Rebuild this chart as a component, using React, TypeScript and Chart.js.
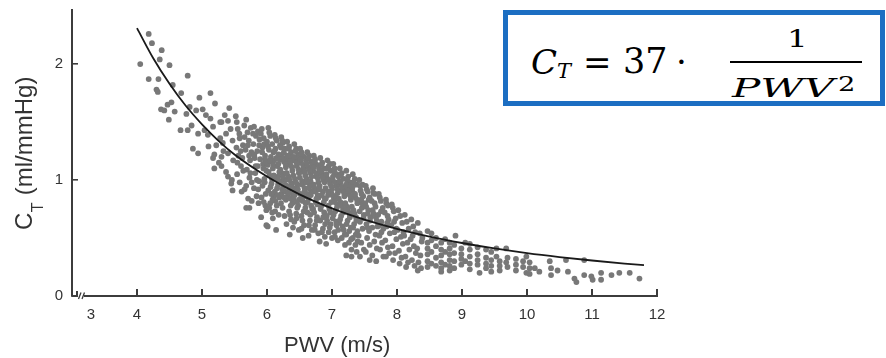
import React, { useEffect, useRef, useState } from 'react';
import { Chart, registerables } from 'chart.js';

Chart.register(...registerables);

// ---------- data ----------
const xTickValues = [4, 5, 6, 7, 8, 9, 10, 11, 12];
const xBreakLabelValue = 3.29; // where the "3" label sits next to the axis break
const yTickValues = [0, 1, 2];

// fitted curve C_T = 37 / PWV^2
const fitPwv = [4.0, 4.25, 4.5, 4.75, 5.0, 5.25, 5.5, 6.0, 6.5, 7.0, 7.5, 8.0, 8.5, 9.0, 9.5, 10.0, 10.5, 11.0, 11.5, 11.8];
const fitCt = [2.31, 2.05, 1.83, 1.64, 1.48, 1.34, 1.22, 1.03, 0.876, 0.755, 0.658, 0.578, 0.512, 0.457, 0.41, 0.37, 0.336, 0.306, 0.28, 0.266];

type P = [number, number];

const pointsSteep: P[] = [
  [4.18, 2.26], [4.23, 2.18], [4.38, 2.12], [4.35, 2.04], [4.05, 2.0], [4.5, 1.99], [4.18, 1.87], [4.33, 1.87],
  [4.78, 1.9], [4.3, 1.78], [4.32, 1.76], [4.55, 1.82], [4.68, 1.75], [4.96, 1.71], [5.13, 1.75], [4.53, 1.67],
  [4.47, 1.65], [4.37, 1.61], [4.42, 1.6], [4.58, 1.59], [4.81, 1.63], [4.91, 1.6], [5.01, 1.61], [5.2, 1.66],
  [5.42, 1.62], [4.49, 1.52], [4.76, 1.57], [5.06, 1.56], [5.13, 1.53], [5.28, 1.5], [4.67, 1.43], [4.78, 1.43],
  [4.84, 1.47], [4.94, 1.4], [5.04, 1.43], [5.09, 1.39], [5.17, 1.46], [4.86, 1.27], [4.94, 1.23], [5.1, 1.29],
  [5.19, 1.22], [5.3, 1.2], [5.17, 1.19], [5.19, 1.1], [5.37, 1.07], [5.4, 1.03], [5.45, 0.97], [5.47, 0.91],
  [5.22, 1.3], [5.26, 1.15], [5.33, 1.25], [5.3, 1.12], [5.28, 1.36], [5.44, 1.44], [5.4, 1.51], [5.35, 1.56],
  [5.3, 1.5], [5.37, 1.4], [5.32, 1.32], [5.47, 1.34], [5.4, 1.23], [5.48, 1.17], [5.46, 1.0],
];

const pointsCoreA: P[] = [
  [5.52, 1.55], [5.55, 1.44], [5.58, 1.36], [5.53, 1.28], [5.56, 1.21], [5.6, 1.12], [5.54, 1.05], [5.58, 0.98],
  [5.61, 0.9], [5.63, 1.3], [5.65, 1.47], [5.62, 1.19],
  [5.68, 1.52], [5.7, 1.41], [5.72, 1.34], [5.67, 1.26], [5.74, 1.17], [5.69, 1.09], [5.73, 1.02], [5.68, 0.95],
  [5.71, 0.84], [5.68, 0.76], [5.73, 0.76], [5.75, 1.45], [5.76, 1.24],
  [5.8, 1.46], [5.83, 1.38], [5.79, 1.31], [5.85, 1.25], [5.81, 1.19], [5.86, 1.12], [5.82, 1.06], [5.88, 0.99],
  [5.8, 0.93], [5.84, 0.86], [5.87, 0.8], [5.91, 0.68], [5.86, 1.42], [5.88, 1.3],
  [5.92, 1.44], [5.95, 1.36], [5.93, 1.28], [5.97, 1.21], [5.94, 1.14], [5.99, 1.08], [5.96, 1.01], [5.93, 0.95],
  [5.98, 0.88], [5.95, 0.81], [5.99, 0.74], [5.99, 0.61], [6.0, 1.33], [5.97, 1.18],
  [6.02, 1.45], [6.05, 1.38], [6.08, 1.31], [6.03, 1.26], [6.06, 1.2], [6.01, 1.13], [6.09, 1.1], [6.04, 1.04],
  [6.07, 0.97], [6.02, 0.91], [6.1, 0.86], [6.05, 0.8], [6.08, 0.72], [6.01, 0.6], [6.09, 0.67], [6.06, 1.16], [6.1, 1.24],
  [6.12, 1.39], [6.15, 1.34], [6.13, 1.27], [6.18, 1.22], [6.11, 1.17], [6.16, 1.12], [6.19, 1.07], [6.14, 1.01],
  [6.17, 0.96], [6.12, 0.9], [6.19, 0.85], [6.15, 0.78], [6.14, 0.57], [6.18, 0.7], [6.2, 1.3], [6.17, 1.03], [6.13, 0.82],
  [6.22, 1.37], [6.24, 1.32], [6.27, 1.27], [6.21, 1.21], [6.26, 1.16], [6.29, 1.11], [6.23, 1.06], [6.28, 1.0],
  [6.25, 0.94], [6.22, 0.88], [6.29, 0.83], [6.24, 0.76], [6.27, 0.69], [6.3, 0.62], [6.26, 1.24], [6.21, 0.99], [6.28, 0.9],
  [6.31, 1.33], [6.34, 1.29], [6.37, 1.24], [6.32, 1.18], [6.36, 1.13], [6.39, 1.08], [6.33, 1.03], [6.38, 0.97],
  [6.35, 0.92], [6.32, 0.86], [6.39, 0.8], [6.34, 0.73], [6.37, 0.66], [6.35, 0.53], [6.4, 0.59], [6.38, 1.2], [6.31, 0.95], [6.36, 0.84],
  [6.42, 1.31], [6.45, 1.27], [6.48, 1.22], [6.41, 1.17], [6.46, 1.12], [6.49, 1.06], [6.43, 1.01], [6.47, 0.96],
  [6.44, 0.9], [6.41, 0.84], [6.48, 0.78], [6.45, 0.71], [6.42, 0.64], [6.49, 0.57], [6.47, 1.19], [6.43, 0.93], [6.46, 0.81],
];

const pointsCoreB: P[] = [
  [6.51, 1.27], [6.53, 1.24], [6.57, 1.2], [6.52, 1.15], [6.56, 1.1], [6.59, 1.04], [6.54, 0.99], [6.58, 0.93],
  [6.51, 0.88], [6.55, 0.82], [6.59, 0.76], [6.53, 0.69], [6.57, 0.61], [6.55, 0.5], [6.53, 0.58], [6.6, 1.17], [6.58, 0.86], [6.52, 1.07],
  [6.62, 1.24], [6.65, 1.21], [6.68, 1.16], [6.63, 1.11], [6.67, 1.06], [6.61, 1.01], [6.66, 0.96], [6.69, 0.9],
  [6.64, 0.84], [6.68, 0.78], [6.62, 0.72], [6.66, 0.65], [6.69, 0.57], [6.64, 0.52], [6.7, 1.13], [6.63, 0.88], [6.67, 0.99],
  [6.72, 1.21], [6.74, 1.18], [6.77, 1.13], [6.71, 1.08], [6.76, 1.03], [6.79, 0.98], [6.73, 0.93], [6.78, 0.87],
  [6.75, 0.81], [6.71, 0.75], [6.77, 0.68], [6.74, 0.61], [6.79, 0.54], [6.81, 0.47], [6.8, 1.1], [6.72, 0.96], [6.76, 0.84],
  [6.82, 1.19], [6.85, 1.15], [6.88, 1.1], [6.83, 1.05], [6.87, 1.0], [6.81, 0.95], [6.86, 0.9], [6.89, 0.84],
  [6.84, 0.78], [6.88, 0.72], [6.82, 0.65], [6.86, 0.58], [6.91, 0.45], [6.89, 0.51], [6.84, 1.07], [6.9, 0.93],
  [6.93, 1.17], [6.95, 1.12], [6.98, 1.08], [6.92, 1.02], [6.97, 0.97], [7.0, 0.92], [6.94, 0.87], [6.99, 0.81],
  [6.96, 0.75], [6.92, 0.69], [6.98, 0.62], [6.95, 0.55], [7.0, 0.5], [6.97, 1.14], [6.94, 0.9],
  [7.02, 1.14], [7.04, 1.1], [7.07, 1.05], [7.01, 1.0], [7.06, 0.95], [7.09, 0.89], [7.03, 0.84], [7.08, 0.79],
  [7.05, 0.73], [7.01, 0.67], [7.07, 0.61], [7.04, 0.55], [7.09, 0.48], [7.1, 1.03], [7.06, 0.86],
  [7.12, 1.1], [7.15, 1.06], [7.18, 1.01], [7.11, 0.96], [7.16, 0.91], [7.19, 0.86], [7.13, 0.81], [7.17, 0.75],
  [7.14, 0.69], [7.11, 0.63], [7.18, 0.57], [7.15, 0.5], [7.22, 0.35], [7.2, 0.44], [7.13, 0.98],
  [7.22, 1.08], [7.25, 1.03], [7.28, 0.98], [7.21, 0.93], [7.26, 0.88], [7.29, 0.83], [7.23, 0.77], [7.27, 0.71],
  [7.24, 0.65], [7.29, 0.59], [7.22, 0.53], [7.26, 0.46], [7.3, 0.4], [7.3, 0.34], [7.27, 0.95],
  [7.32, 1.05], [7.35, 1.01], [7.38, 0.96], [7.31, 0.91], [7.36, 0.85], [7.39, 0.8], [7.33, 0.74], [7.37, 0.68],
  [7.34, 0.62], [7.39, 0.56], [7.32, 0.5], [7.36, 0.44], [7.38, 0.38], [7.34, 0.88],
  [7.42, 1.0], [7.47, 0.96], [7.44, 0.91], [7.48, 0.86], [7.41, 0.81], [7.46, 0.76], [7.49, 0.7], [7.43, 0.64],
  [7.47, 0.58], [7.41, 0.52], [7.45, 0.46], [7.49, 0.4], [7.43, 0.34], [7.45, 0.83],
];

const pointsCoreFill: P[] = [
  [5.535, 1.5], [5.575, 1.4], [5.595, 1.25], [5.545, 1.15], [5.635, 1.08], [5.655, 1.37], [5.705, 1.3], [5.725, 1.21],
  [5.745, 1.06], [5.765, 0.98], [5.785, 1.4], [5.805, 1.22], [5.825, 1.12], [5.845, 1.0], [5.865, 0.92], [5.885, 1.35],
  [5.895, 1.18], [5.655, 0.92], [5.765, 0.82],
  [5.905, 1.4], [5.925, 1.24], [5.945, 1.1], [5.965, 0.98], [5.915, 0.85], [5.975, 0.78], [5.955, 1.31], [5.985, 1.16],
  [6.035, 1.41], [6.015, 1.29], [6.045, 1.17], [6.025, 1.07], [6.075, 1.01], [6.055, 0.94], [6.085, 0.83], [6.035, 0.76],
  [6.065, 0.88], [6.095, 1.13],
  [6.135, 1.36], [6.115, 1.25], [6.145, 1.19], [6.175, 1.14], [6.105, 1.04], [6.155, 0.93], [6.185, 0.99], [6.125, 0.73],
  [6.165, 0.87], [6.195, 1.18],
  [6.235, 1.34], [6.215, 1.28], [6.255, 1.19], [6.285, 1.14], [6.205, 1.09], [6.245, 1.03], [6.275, 0.96], [6.215, 0.8],
  [6.265, 0.85], [6.235, 0.92], [6.295, 1.06],
  [6.335, 1.27], [6.315, 1.21], [6.355, 1.16], [6.385, 1.11], [6.305, 1.06], [6.345, 1.0], [6.375, 0.94], [6.325, 0.89],
  [6.365, 0.78], [6.395, 0.88], [6.355, 0.7],
  [6.435, 1.25], [6.415, 1.2], [6.455, 1.15], [6.485, 1.09], [6.405, 1.04], [6.445, 0.98], [6.475, 0.92], [6.425, 0.87],
  [6.465, 0.76], [6.495, 0.83], [6.455, 0.67],
  [6.535, 1.22], [6.515, 1.18], [6.555, 1.13], [6.585, 1.07], [6.505, 1.02], [6.545, 0.96], [6.575, 0.9], [6.525, 0.84],
  [6.565, 0.73], [6.595, 0.8], [6.545, 0.65],
  [6.635, 1.19], [6.615, 1.14], [6.655, 1.09], [6.685, 1.03], [6.605, 0.98], [6.645, 0.93], [6.675, 0.87], [6.625, 0.81],
  [6.665, 0.7], [6.695, 0.75], [6.645, 0.61],
  [6.735, 1.16], [6.715, 1.11], [6.755, 1.06], [6.785, 1.01], [6.705, 0.95], [6.745, 0.9], [6.775, 0.79], [6.725, 0.72],
  [6.765, 0.65], [6.795, 0.85], [6.735, 0.57],
  [6.835, 1.13], [6.815, 1.08], [6.855, 1.03], [6.885, 0.98], [6.805, 0.92], [6.845, 0.87], [6.875, 0.81], [6.825, 0.75],
  [6.865, 0.68], [6.895, 0.62], [6.845, 0.55],
  [6.935, 1.1], [6.915, 1.05], [6.955, 1.0], [6.985, 0.95], [6.905, 0.84], [6.945, 0.78], [6.975, 0.72], [6.925, 0.65],
  [6.965, 0.59], [6.995, 0.88],
  [7.035, 1.07], [7.015, 1.03], [7.055, 0.98], [7.085, 0.92], [7.005, 0.87], [7.045, 0.81], [7.075, 0.76], [7.025, 0.7],
  [7.065, 0.64], [7.095, 0.57], [7.045, 0.51],
  [7.135, 1.04], [7.115, 0.99], [7.155, 0.94], [7.185, 0.89], [7.105, 0.84], [7.145, 0.78], [7.175, 0.72], [7.125, 0.66],
  [7.165, 0.6], [7.195, 0.53],
  [7.235, 1.0], [7.215, 0.96], [7.255, 0.91], [7.285, 0.86], [7.205, 0.8], [7.245, 0.74], [7.275, 0.68], [7.225, 0.62],
  [7.265, 0.56], [7.295, 0.49],
  [7.335, 0.98], [7.315, 0.94], [7.355, 0.88], [7.385, 0.83], [7.305, 0.77], [7.345, 0.71], [7.375, 0.65], [7.325, 0.59],
  [7.365, 0.53], [7.395, 0.47],
  [7.435, 0.95], [7.455, 0.88], [7.475, 0.79], [7.425, 0.73], [7.485, 0.67], [7.535, 0.92], [7.565, 0.83], [7.525, 0.77],
  [7.585, 0.65], [7.545, 0.59], [7.635, 0.89], [7.655, 0.8], [7.625, 0.74], [7.675, 0.68], [7.735, 0.85], [7.755, 0.73],
  [7.725, 0.61], [7.835, 0.8], [7.855, 0.69], [7.935, 0.76], [7.955, 0.64],
];

const pointsCoreC: P[] = [
  [7.52, 0.95], [7.55, 0.9], [7.58, 0.85], [7.51, 0.8], [7.56, 0.74], [7.59, 0.68], [7.53, 0.62], [7.57, 0.56],
  [7.54, 0.5], [7.58, 0.44], [7.52, 0.38], [7.58, 0.31], [7.55, 0.71],
  [7.63, 0.93], [7.66, 0.88], [7.61, 0.82], [7.67, 0.77], [7.64, 0.71], [7.69, 0.65], [7.62, 0.59], [7.67, 0.53],
  [7.65, 0.47], [7.69, 0.41], [7.62, 0.35], [7.68, 0.3], [7.7, 0.6],
  [7.72, 0.88], [7.75, 0.82], [7.78, 0.76], [7.71, 0.7], [7.76, 0.64], [7.79, 0.58], [7.73, 0.52], [7.77, 0.46],
  [7.74, 0.4], [7.79, 0.34], [7.76, 0.55],
  [7.83, 0.83], [7.86, 0.78], [7.81, 0.72], [7.87, 0.66], [7.84, 0.6], [7.89, 0.54], [7.82, 0.48], [7.86, 0.42],
  [7.83, 0.34], [7.88, 0.37], [7.85, 0.63],
  [7.92, 0.79], [7.95, 0.73], [7.98, 0.67], [7.91, 0.61], [7.96, 0.55], [7.99, 0.49], [7.93, 0.43], [7.97, 0.37],
  [7.94, 0.31], [7.99, 0.58],
  [8.02, 0.74], [8.05, 0.69], [8.08, 0.63], [8.01, 0.57], [8.06, 0.51], [8.09, 0.45], [8.03, 0.39], [8.07, 0.33],
  [8.04, 0.28], [8.1, 0.55],
  [8.12, 0.7], [8.15, 0.64], [8.18, 0.58], [8.11, 0.52], [8.16, 0.46], [8.19, 0.4], [8.13, 0.34], [8.17, 0.29], [8.14, 0.25],
  [8.22, 0.66], [8.25, 0.6], [8.28, 0.55], [8.21, 0.49], [8.26, 0.43], [8.29, 0.37], [8.23, 0.31], [8.27, 0.26], [8.24, 0.52],
  [8.32, 0.63], [8.35, 0.54], [8.38, 0.47], [8.31, 0.41], [8.36, 0.35], [8.33, 0.29], [8.37, 0.24], [8.32, 0.22], [8.39, 0.5],
];

const pointsColumns: P[] = [
  [8.47, 0.56], [8.47, 0.46], [8.47, 0.41], [8.47, 0.36], [8.47, 0.3], [8.47, 0.25],
  [8.53, 0.54], [8.53, 0.48], [8.53, 0.38], [8.53, 0.28],
  [8.6, 0.5], [8.6, 0.43], [8.6, 0.33], [8.6, 0.26],
  [8.68, 0.46], [8.68, 0.4], [8.68, 0.35], [8.68, 0.29], [8.68, 0.24], [8.68, 0.21],
  [8.74, 0.49], [8.74, 0.38], [8.74, 0.27],
  [8.81, 0.46], [8.81, 0.41], [8.81, 0.36], [8.81, 0.31], [8.81, 0.26], [8.81, 0.22],
  [8.88, 0.44], [8.88, 0.37], [8.88, 0.3], [8.88, 0.24], [8.9, 0.52],
  [8.99, 0.41], [8.99, 0.36], [8.99, 0.32], [8.99, 0.27],
  [9.05, 0.46], [9.05, 0.3],
  [9.12, 0.45], [9.12, 0.4], [9.12, 0.34], [9.12, 0.28], [9.12, 0.23],
  [9.24, 0.42], [9.24, 0.36], [9.24, 0.31], [9.24, 0.27], [9.27, 0.2],
  [9.37, 0.4], [9.37, 0.33], [9.37, 0.28], [9.37, 0.24],
  [9.45, 0.38], [9.45, 0.31], [9.45, 0.26], [9.45, 0.21],
  [9.53, 0.41], [9.53, 0.34], [9.58, 0.3], [9.58, 0.26], [9.58, 0.22],
  [9.68, 0.41], [9.68, 0.29], [9.7, 0.33], [9.7, 0.25],
  [9.83, 0.32], [9.83, 0.27], [9.83, 0.22], [9.94, 0.3], [9.94, 0.25],
  [9.99, 0.34], [9.99, 0.2], [10.04, 0.29], [10.04, 0.24], [10.04, 0.19],
];

const pointsTail: P[] = [
  [10.12, 0.24], [10.19, 0.21], [10.35, 0.3], [10.37, 0.24], [10.37, 0.18], [10.47, 0.22], [10.6, 0.31],
  [10.63, 0.21], [10.73, 0.15], [10.76, 0.12], [10.88, 0.31], [10.88, 0.18], [10.99, 0.17], [11.01, 0.14],
  [11.14, 0.2], [11.14, 0.14], [11.3, 0.18], [11.42, 0.2], [11.58, 0.2], [11.73, 0.15],
];

// ---------- styles ----------
const POINT_COLOR = 'rgb(120,120,120)';
const AXIS_COLOR = '#3c3c3c';
const SANS = "'Liberation Sans', Arial, Helvetica, sans-serif";
const SERIF = "'DejaVu Serif', serif";

const toXY = (arr: P[]) => arr.map(([x, y]) => ({ x, y }));

function MathPart(props: { x: number; base: number; size: number; italic?: boolean; scaleX?: number; children: React.ReactNode }) {
  const { x, base, size, italic, scaleX, children } = props;
  return (
    <span
      style={{
        position: 'absolute',
        left: x,
        top: base - 0.846 * size,
        fontFamily: SERIF,
        fontSize: size,
        fontStyle: italic ? 'italic' : 'normal',
        lineHeight: 1,
        whiteSpace: 'pre',
        color: '#000',
        transform: scaleX ? `scaleX(${scaleX})` : undefined,
        transformOrigin: 'left center',
      }}
    >
      {children}
    </span>
  );
}

type AxisGeom = { left: number; right: number; bottom: number; ticks: number[] };

export default function App() {
  const canvasRef = useRef<HTMLCanvasElement>(null);
  const [axis, setAxis] = useState<AxisGeom | null>(null);

  useEffect(() => {
    const canvas = canvasRef.current;
    if (!canvas) return;

    const decor = {
      id: 'axisDecor',
      afterDraw(chart: any) {
        const ctx: CanvasRenderingContext2D = chart.ctx;
        const area = chart.chartArea;
        const xs = chart.scales.x;
        const x0 = Math.round(area.left);
        const yb = Math.round(area.bottom);
        ctx.save();
        ctx.fillStyle = AXIS_COLOR;
        ctx.fillRect(x0 + 12, yb - 1, Math.round(area.right) - x0 - 11, 2);
        xTickValues.forEach((v) => {
          const px = Math.round(xs.getPixelForValue(v));
          ctx.fillRect(px - 1, yb - 7, 2, 7);
        });
        ctx.fillStyle = '#ffffff';
        ctx.fillRect(x0 + 6, yb - 3, 6, 6);
        ctx.fillStyle = AXIS_COLOR;
        ctx.fillRect(x0, yb - 1, 6, 2);
        ctx.fillRect(x0 + 4, yb - 5, 2, 5);
        ctx.strokeStyle = AXIS_COLOR;
        ctx.lineWidth = 1.3;
        ctx.beginPath();
        ctx.moveTo(x0 + 6.5, yb + 3);
        ctx.lineTo(x0 + 9, yb - 3.5);
        ctx.moveTo(x0 + 10, yb + 3);
        ctx.lineTo(x0 + 12.5, yb - 3.5);
        ctx.stroke();

        // axis titles
        ctx.fillStyle = '#333';
        ctx.textBaseline = 'alphabetic';
        ctx.font = `22px ${SANS}`;
        ctx.textAlign = 'left';
        ctx.fillText('PWV (m/s)', 284, 352);

        ctx.translate(32, 230);
        ctx.rotate(-Math.PI / 2);
        ctx.font = `24px ${SANS}`;
        ctx.fillText('C', 0, 0);
        const cw = ctx.measureText('C').width;
        ctx.font = `16px ${SANS}`;
        ctx.fillText('T', cw + 0.5, 11);
        const tw = ctx.measureText('T').width;
        ctx.font = `24px ${SANS}`;
        ctx.fillText(' (ml/mmHg)', cw + tw + 1, 0);
        ctx.restore();
      },
    };

    const chart = new Chart(canvas, {
      type: 'scatter',
      data: {
        datasets: [
          {
            type: 'line',
            label: 'fit',
            data: fitPwv.map((x, i) => ({ x, y: fitCt[i] })),
            borderColor: '#1a1a1a',
            borderWidth: 1.8,
            pointRadius: 0,
            fill: false,
            cubicInterpolationMode: 'monotone',
            order: 0,
          } as any,
          {
            label: 'measurements',
            data: [
              ...toXY(pointsSteep),
              ...toXY(pointsCoreA),
              ...toXY(pointsCoreB),
              ...toXY(pointsCoreFill),
              ...toXY(pointsCoreC),
              ...toXY(pointsColumns),
              ...toXY(pointsTail),
            ],
            backgroundColor: POINT_COLOR,
            borderWidth: 0,
            pointRadius: 2.9,
            pointStyle: 'circle',
            order: 1,
          },
        ],
      },
      options: {
        responsive: false,
        animation: false,
        devicePixelRatio: 1,
        layout: { padding: { left: 0, right: 229, top: 10, bottom: 0 } },
        plugins: { legend: { display: false }, tooltip: { enabled: false } },
        scales: {
          x: {
            type: 'linear',
            min: 3,
            max: 12,
            grid: { display: false, drawTicks: false },
            border: { display: false },
            afterBuildTicks: (scale: any) => {
              scale.ticks = [xBreakLabelValue, ...xTickValues].map((value) => ({ value }));
            },
            afterFit: (scale: any) => {
              scale.height = 62;
              scale.paddingLeft = 0;
              scale.paddingRight = 0;
            },
            ticks: {
              autoSkip: false,
              maxRotation: 0,
              padding: 10,
              color: '#333',
              font: { family: SANS, size: 15 },
              callback: (v: any) => (v === xBreakLabelValue ? '3' : String(v)),
            },
          },
          y: {
            type: 'linear',
            min: 0,
            max: 2.466,
            grid: {
              display: true,
              drawOnChartArea: false,
              drawTicks: true,
              tickLength: -6,
              lineWidth: 1.6,
              color: AXIS_COLOR,
            },
            border: { display: true, color: AXIS_COLOR, width: 2 },
            afterBuildTicks: (scale: any) => {
              scale.ticks = yTickValues.map((value) => ({ value }));
            },
            afterFit: (scale: any) => {
              scale.width = 72;
              scale.paddingTop = 0;
              scale.paddingBottom = 0;
            },
            ticks: {
              padding: 15,
              color: '#333',
              font: { family: SANS, size: 15 },
              callback: (v: any) => String(v),
            },
          },
        },
      },
      plugins: [decor],
    });

    const xs: any = chart.scales.x;
    setAxis({
      left: chart.chartArea.left,
      right: chart.chartArea.right,
      bottom: chart.chartArea.bottom,
      ticks: xTickValues.map((v) => xs.getPixelForValue(v)),
    });

    return () => chart.destroy();
  }, []);

  return (
    <div style={{ position: 'fixed', left: 0, top: 0, width: 886, height: 358, background: '#fff', overflow: 'hidden' }}>
      <canvas ref={canvasRef} width={886} height={358} style={{ position: 'absolute', left: 0, top: 0, width: 886, height: 358 }} />
      {axis && (
        <>
          <div
            style={{
              position: 'absolute',
              left: Math.round(axis.left) + 12,
              top: Math.round(axis.bottom) - 1,
              width: Math.round(axis.right) - Math.round(axis.left) - 11,
              height: 2,
              background: AXIS_COLOR,
            }}
          />
          {axis.ticks.map((px, i) => (
            <div
              key={i}
              style={{
                position: 'absolute',
                left: Math.round(px) - 1,
                top: Math.round(axis.bottom) - 7,
                width: 2,
                height: 7,
                background: AXIS_COLOR,
              }}
            />
          ))}
        </>
      )}
      <div
        style={{
          position: 'absolute',
          left: 503,
          top: 10,
          width: 382,
          height: 96,
          boxSizing: 'border-box',
          border: '5px solid #1c6ec2',
          background: '#fff',
        }}
      />
      <MathPart x={531} base={74} size={34} italic>C</MathPart>
      <MathPart x={557} base={78.5} size={21} italic>T</MathPart>
      <MathPart x={583} base={74} size={34}>=</MathPart>
      <MathPart x={623} base={74} size={35}>37</MathPart>
      <MathPart x={676} base={74} size={34}>·</MathPart>
      <MathPart x={787} base={46.7} size={25} scaleX={1.3}>1</MathPart>
      <div style={{ position: 'absolute', left: 730, top: 60.5, width: 132, height: 2.3, background: '#000' }} />
      <MathPart x={732} base={96.7} size={26} italic scaleX={1.62}>PWV</MathPart>
      <MathPart x={838} base={91.7} size={21} scaleX={1.3}>2</MathPart>
    </div>
  );
}
